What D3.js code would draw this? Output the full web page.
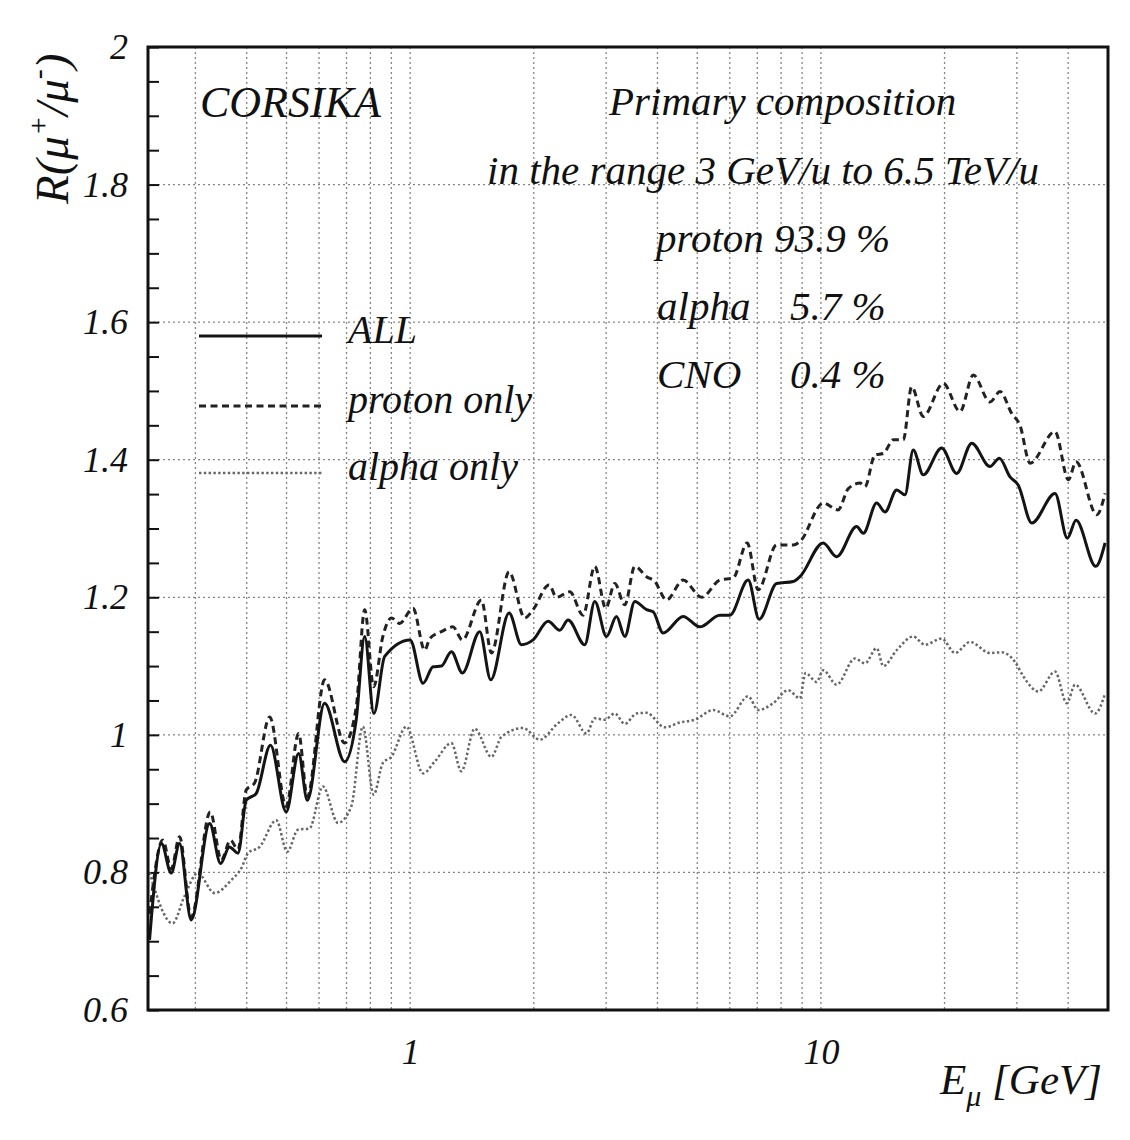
<!DOCTYPE html>
<html>
<head>
<meta charset="utf-8">
<script src="https://cdn.jsdelivr.net/npm/d3@7"></script>
<style>
  html, body { margin: 0; padding: 0; background: #ffffff; }
  svg { display: block; }
  text { font-family: "Liberation Serif", "Times New Roman", Times, serif; font-style: italic; fill: #111; }
</style>
</head>
<body>
<svg id="chart" width="1130" height="1140"></svg>
<script>
// ---------------- data ----------------
const energyAll = [0.232, 0.248, 0.262, 0.2745, 0.293, 0.325, 0.3455, 0.363, 0.381, 0.399,
  0.422, 0.457, 0.499, 0.535, 0.562, 0.619, 0.6925, 0.739, 0.775, 0.816,
  0.867, 1.0, 1.075, 1.137, 1.191, 1.260, 1.340, 1.477, 1.571, 1.741,
  1.866, 1.992, 2.167, 2.313, 2.424, 2.661, 2.815, 3.006, 3.179, 3.331,
  3.523, 3.762, 3.904, 4.128, 4.620, 5.073, 5.675, 6.002, 6.651, 7.074,
  7.801, 8.561, 8.889, 10.13, 10.92, 12.22, 12.68, 13.67, 14.32, 15.29,
  16.02, 16.78, 17.75, 19.68, 21.41, 23.29, 25.80, 27.19, 28.87, 30.24,
  32.61, 37.15, 39.81, 41.80, 46.69, 49.19];
const ratioAll = [0.702, 0.842, 0.799, 0.842, 0.731, 0.871, 0.813, 0.837, 0.828, 0.905,
  0.915, 0.985, 0.888, 0.973, 0.905, 1.046, 0.961, 1.022, 1.143, 1.031,
  1.114, 1.138, 1.075, 1.099, 1.100, 1.121, 1.090, 1.150, 1.080, 1.177,
  1.131, 1.138, 1.165, 1.152, 1.167, 1.131, 1.194, 1.143, 1.172, 1.143,
  1.194, 1.182, 1.179, 1.148, 1.172, 1.157, 1.174, 1.174, 1.225, 1.168,
  1.220, 1.223, 1.230, 1.279, 1.259, 1.303, 1.293, 1.337, 1.324, 1.356,
  1.349, 1.414, 1.378, 1.417, 1.380, 1.424, 1.390, 1.402, 1.375, 1.363,
  1.308, 1.351, 1.286, 1.312, 1.245, 1.279];

const energyProton = [0.232, 0.250, 0.262, 0.2745, 0.293, 0.326, 0.347, 0.365, 0.381, 0.399,
  0.418, 0.455, 0.499, 0.535, 0.562, 0.619, 0.6925, 0.739, 0.775, 0.815,
  0.858, 0.900, 0.943, 1.016, 1.085, 1.116, 1.191, 1.271, 1.340, 1.491,
  1.577, 1.741, 1.901, 1.992, 2.179, 2.271, 2.447, 2.636, 2.815, 2.994,
  3.149, 3.331, 3.523, 3.762, 3.941, 4.208, 4.620, 5.123, 5.675, 6.115,
  6.614, 7.035, 7.801, 8.561, 8.889, 10.13, 11.01, 11.66, 12.45, 12.80,
  13.54, 14.19, 15.01, 15.87, 16.63, 17.75, 19.86, 21.81, 23.50, 25.80,
  27.30, 29.15, 30.53, 32.29, 37.15, 40.04, 41.80, 46.95, 49.19];
const ratioProton = [0.740, 0.847, 0.805, 0.852, 0.735, 0.888, 0.818, 0.847, 0.833, 0.920,
  0.930, 1.026, 0.896, 1.002, 0.910, 1.080, 0.988, 1.040, 1.182, 1.070,
  1.143, 1.170, 1.162, 1.184, 1.123, 1.140, 1.150, 1.157, 1.138, 1.196,
  1.119, 1.237, 1.170, 1.182, 1.218, 1.200, 1.208, 1.174, 1.245, 1.184,
  1.220, 1.189, 1.245, 1.230, 1.223, 1.196, 1.225, 1.200, 1.225, 1.228,
  1.279, 1.211, 1.276, 1.276, 1.281, 1.337, 1.327, 1.358, 1.366, 1.361,
  1.407, 1.409, 1.429, 1.429, 1.506, 1.463, 1.511, 1.470, 1.523, 1.484,
  1.499, 1.467, 1.450, 1.395, 1.441, 1.371, 1.397, 1.320, 1.351];

const energyAlpha = [0.232, 0.264, 0.282, 0.304, 0.334, 0.367, 0.388, 0.403, 0.430, 0.472,
  0.502, 0.533, 0.569, 0.613, 0.667, 0.719, 0.767, 0.815, 0.858, 0.900,
  0.979, 1.075, 1.147, 1.260, 1.332, 1.436, 1.577, 1.668, 1.883, 2.068,
  2.291, 2.470, 2.687, 2.815, 2.977, 3.149, 3.331, 3.556, 3.762, 4.169,
  4.535, 4.933, 5.467, 6.002, 6.651, 7.035, 7.653, 8.324, 8.889, 9.173,
  9.761, 10.13, 10.92, 12.10, 12.80, 13.67, 14.19, 15.29, 16.78, 17.92,
  19.68, 21.21, 23.07, 25.80, 27.55, 29.69, 31.11, 33.84, 37.15, 39.69,
  41.57, 46.51, 49.19];
const ratioAlpha = [0.800, 0.726, 0.765, 0.799, 0.770, 0.789, 0.806, 0.828, 0.837, 0.876,
  0.830, 0.862, 0.864, 0.925, 0.872, 0.896, 1.012, 0.913, 0.959, 0.968,
  1.012, 0.944, 0.961, 0.988, 0.947, 1.009, 0.968, 0.997, 1.010, 0.993,
  1.017, 1.029, 1.002, 1.024, 1.022, 1.031, 1.016, 1.031, 1.032, 1.011,
  1.018, 1.022, 1.036, 1.027, 1.056, 1.036, 1.046, 1.065, 1.053, 1.090,
  1.077, 1.094, 1.073, 1.111, 1.104, 1.126, 1.100, 1.123, 1.143, 1.131,
  1.140, 1.119, 1.135, 1.119, 1.120, 1.106, 1.085, 1.063, 1.092, 1.046,
  1.073, 1.031, 1.060];

const xDomain = [0.23, 50];
const yDomain = [0.6, 2.0];
const xTickLabels = [1, 10];
const yTickLabels = [0.6, 0.8, 1.0, 1.2, 1.4, 1.6, 1.8, 2.0];
const xGridValues = [0.3, 0.4, 0.5, 0.6, 0.7, 0.8, 0.9, 1, 2, 3, 4, 5, 6, 7, 8, 9, 10, 20, 30, 40];
const yGridValues = [0.8, 1.0, 1.2, 1.4, 1.6, 1.8];
const yMinorTicks = d3.range(0.6, 2.0001, 0.05);

const seriesNames = ["ALL", "proton only", "alpha only"];
const compositionLines = [
  { name: "proton", value: "93.9 %" },
  { name: "alpha", value: "5.7 %" },
  { name: "CNO", value: "0.4 %" }
];

// ---------------- layout ----------------
const plot = { left: 148, right: 1108, top: 47, bottom: 1010 };
const svg = d3.select("#chart");

const x = d3.scaleLog().domain(xDomain).range([plot.left, plot.right]);
const y = d3.scaleLinear().domain(yDomain).range([plot.bottom, plot.top]);

svg.append("rect").attr("x", 0).attr("y", 0).attr("width", 1130).attr("height", 1140).attr("fill", "#ffffff");

// grid
const grid = svg.append("g").attr("stroke", "#858585").attr("stroke-width", 1.3).attr("stroke-dasharray", "2,3");
grid.selectAll("line.v").data(xGridValues).join("line")
  .attr("x1", d => x(d)).attr("x2", d => x(d))
  .attr("y1", plot.top).attr("y2", plot.bottom);
grid.selectAll("line.h").data(yGridValues).join("line")
  .attr("x1", plot.left).attr("x2", plot.right)
  .attr("y1", d => y(d)).attr("y2", d => y(d));

// minor ticks on left axis (inside)
svg.append("g").attr("transform", `translate(${plot.left},0)`)
  .call(d3.axisRight(y).tickValues(yMinorTicks).tickSize(11).tickFormat(""))
  .call(g => g.select(".domain").remove())
  .call(g => g.selectAll("line").attr("stroke", "#111").attr("stroke-width", 2));

// y tick labels
svg.append("g").attr("transform", `translate(${plot.left},0)`)
  .call(d3.axisLeft(y).tickValues(yTickLabels).tickSize(0).tickPadding(20)
    .tickFormat(d => d === 1 || d === 2 ? String(d) : d3.format(".1f")(d)))
  .call(g => g.select(".domain").remove())
  .call(g => g.selectAll("text")
    .attr("font-family", "'Liberation Serif', 'Times New Roman', serif")
    .attr("font-style", "italic").attr("font-size", 36).attr("fill", "#111"));

// x tick labels
svg.append("g").attr("transform", `translate(0,${plot.bottom})`)
  .call(d3.axisBottom(x).tickValues(xTickLabels).tickSize(0).tickPadding(28).tickFormat(d3.format("d")))
  .call(g => g.select(".domain").remove())
  .call(g => g.selectAll("text")
    .attr("font-family", "'Liberation Serif', 'Times New Roman', serif")
    .attr("font-style", "italic").attr("font-size", 36).attr("fill", "#111"));

// curves
const line = d3.line().x(d => x(d[0])).y(d => y(d[1])).curve(d3.curveMonotoneX);
const zip = (a, b) => a.map((v, i) => [v, b[i]]);

svg.append("clipPath").attr("id", "clip").append("rect")
  .attr("x", plot.left).attr("y", plot.top).attr("width", plot.right - plot.left).attr("height", plot.bottom - plot.top);
const curves = svg.append("g").attr("clip-path", "url(#clip)").attr("fill", "none")
  .attr("stroke-linejoin", "round");

const styles = [
  { stroke: "#141414", width: 3.0, dash: null },
  { stroke: "#222222", width: 3.0, dash: "7,4.5" },
  { stroke: "#666666", width: 2.5, dash: "2.4,2.4" }
];
const seriesData = [zip(energyAll, ratioAll), zip(energyProton, ratioProton), zip(energyAlpha, ratioAlpha)];
[2, 1, 0].forEach(i => {
  curves.append("path").datum(seriesData[i])
    .attr("d", line)
    .attr("stroke", styles[i].stroke)
    .attr("stroke-width", styles[i].width)
    .attr("stroke-dasharray", styles[i].dash);
});

// frame
svg.append("rect").attr("x", plot.left).attr("y", plot.top)
  .attr("width", plot.right - plot.left).attr("height", plot.bottom - plot.top)
  .attr("fill", "none").attr("stroke", "#111").attr("stroke-width", 3);

// legend
const legendY = [336, 406, 473];
const legend = svg.append("g");
seriesNames.forEach((name, i) => {
  legend.append("line").attr("x1", 199).attr("x2", 322).attr("y1", legendY[i]).attr("y2", legendY[i])
    .attr("stroke", styles[i].stroke).attr("stroke-width", styles[i].width)
    .attr("stroke-dasharray", styles[i].dash);
  legend.append("text").attr("x", 348).attr("y", legendY[i] + 7).attr("font-size", 40).text(name);
});

// annotations
svg.append("text").attr("x", 200).attr("y", 117).attr("font-size", 44).text("CORSIKA");
svg.append("text").attr("x", 609).attr("y", 115).attr("font-size", 41).text("Primary composition");
svg.append("text").attr("x", 487).attr("y", 184).attr("font-size", 41).text("in the range 3 GeV/u to 6.5 TeV/u");
const compY = [252, 320, 388];
compositionLines.forEach((c, i) => {
  if (i === 0) {
    svg.append("text").attr("x", 656).attr("y", compY[i]).attr("font-size", 41).text(c.name + " " + c.value);
  } else {
    svg.append("text").attr("x", 657).attr("y", compY[i]).attr("font-size", 41).text(c.name);
    svg.append("text").attr("x", 790).attr("y", compY[i]).attr("font-size", 41).text(c.value);
  }
});

// axis titles
const yt = svg.append("text").attr("transform", "translate(68,204) rotate(-90)").attr("font-size", 47);
yt.append("tspan").text("R(μ");
yt.append("tspan").attr("dy", -20).attr("font-size", 30).text("+");
yt.append("tspan").attr("dy", 20).text("/μ");
yt.append("tspan").attr("dy", -20).attr("font-size", 30).text("-");
yt.append("tspan").attr("dy", 20).text(")");

const xt = svg.append("text").attr("x", 940).attr("y", 1094).attr("font-size", 43);
xt.append("tspan").text("E");
xt.append("tspan").attr("dy", 12).attr("font-size", 30).text("μ");
xt.append("tspan").attr("dy", -12).text(" [GeV]");
</script>
</body>
</html>
